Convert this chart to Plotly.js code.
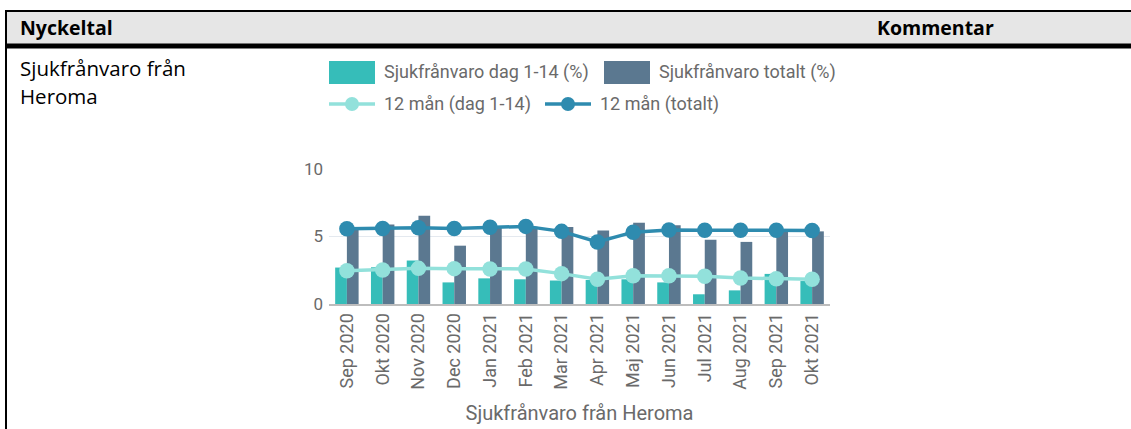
<!DOCTYPE html>
<html>
<head>
<meta charset="utf-8">
<script src="https://cdn.plot.ly/plotly-3.0.1.min.js"></script>
<style>
html,body{margin:0;padding:0;background:#fff;}
#chart{width:1131px;height:429px;}
</style>
</head>
<body>
<div id="chart"></div>
<script>
// ---- data ----
const months = ["Sep 2020","Okt 2020","Nov 2020","Dec 2020","Jan 2021","Feb 2021","Mar 2021","Apr 2021","Maj 2021","Jun 2021","Jul 2021","Aug 2021","Sep 2021","Okt 2021"];
const sickShort = [2.70, 2.72, 3.22, 1.60, 1.90, 1.83, 1.74, 1.78, 1.83, 1.60, 0.72, 1.01, 2.23, 1.70];
const sickTotal = [5.60, 5.88, 6.54, 4.32, 5.70, 5.72, 5.70, 5.45, 6.02, 5.83, 4.76, 4.60, 5.50, 5.38];
const roll12Short = [2.46, 2.52, 2.64, 2.62, 2.60, 2.60, 2.25, 1.84, 2.10, 2.10, 2.05, 1.93, 1.87, 1.83];
const roll12Total = [5.58, 5.60, 5.65, 5.60, 5.68, 5.75, 5.38, 4.60, 5.32, 5.48, 5.46, 5.46, 5.46, 5.45];
const yTicks = [0, 5, 10];
const seriesNames = ["Sjukfrånvaro dag 1-14 (%)", "Sjukfrånvaro totalt (%)", "12 mån (dag 1-14)", "12 mån (totalt)"];
const axisTitle = "Sjukfrånvaro från Heroma";
const headerLeft = "Nyckeltal", headerRight = "Kommentar";
const rowLabel = ["Sjukfrånvaro från", "Heroma"];

// ---- style ----
const C_TEAL = "#36BDB9", C_SLATE = "#5B7890", C_LIGHT = "#92E1DB", C_DARK = "#2E8BAF";
const GREY = "#6A6A6A";
const M = {l:329, r:301, t:169, b:125};
const PW = 1131 - M.l - M.r, PH = 429 - M.t - M.b;
const px = x => (x - M.l) / PW;
const py = y => (M.t + PH - y) / PH;

const traces = [
  {type:"bar", x:months, y:sickShort, name:seriesNames[0], marker:{color:C_TEAL}, showlegend:false, hoverinfo:"skip"},
  {type:"bar", x:months, y:sickTotal, name:seriesNames[1], marker:{color:C_SLATE}, showlegend:false, hoverinfo:"skip"},
  {type:"scatter", mode:"lines+markers", x:months, y:roll12Short, name:seriesNames[2],
   line:{color:C_LIGHT, width:3.5}, marker:{color:C_LIGHT, size:15.5}, showlegend:false, cliponaxis:false},
  {type:"scatter", mode:"lines+markers", x:months, y:roll12Total, name:seriesNames[3],
   line:{color:C_DARK, width:3.5}, marker:{color:C_DARK, size:15.5}, showlegend:false, cliponaxis:false}
];

const shapes = [
  // table header
  {type:"rect", xref:"paper", yref:"paper", x0:px(7), x1:px(1135), y0:py(12), y1:py(44), fillcolor:"#E6E6E6", line:{width:0}, layer:"below"},
  {type:"line", xref:"paper", yref:"paper", x0:px(5), x1:px(1135), y0:py(11), y1:py(11), line:{color:"#000", width:2}},
  {type:"line", xref:"paper", yref:"paper", x0:px(5), x1:px(1135), y0:py(46), y1:py(46), line:{color:"#000", width:5}},
  {type:"line", xref:"paper", yref:"paper", x0:px(6), x1:px(6), y0:py(10), y1:py(440), line:{color:"#000", width:2}},
  // custom legend
  {type:"rect", xref:"paper", yref:"paper", x0:px(329), x1:px(375), y0:py(61), y1:py(84), fillcolor:C_TEAL, line:{width:0}},
  {type:"rect", xref:"paper", yref:"paper", x0:px(604), x1:px(650), y0:py(61), y1:py(84), fillcolor:C_SLATE, line:{width:0}},
  {type:"line", xref:"paper", yref:"paper", x0:px(329), x1:px(375), y0:py(104), y1:py(104), line:{color:C_LIGHT, width:3.5}},
  {type:"circle", xref:"paper", yref:"paper", xsizemode:"pixel", ysizemode:"pixel", xanchor:px(352), yanchor:py(104), x0:-7, x1:7, y0:-7, y1:7, fillcolor:C_LIGHT, line:{width:0}},
  {type:"line", xref:"paper", yref:"paper", x0:px(545), x1:px(591), y0:py(104), y1:py(104), line:{color:C_DARK, width:3.5}},
  {type:"circle", xref:"paper", yref:"paper", xsizemode:"pixel", ysizemode:"pixel", xanchor:px(568), yanchor:py(104), x0:-7, x1:7, y0:-7, y1:7, fillcolor:C_DARK, line:{width:0}}
];

const hfont = {family:"Open Sans, Noto Sans, sans-serif", size:19.5, color:"#000"};
const tfont = {family:"Open Sans, Noto Sans, sans-serif", size:20.5, color:"#000"};
const lfont = {family:"Roboto, sans-serif", size:18, color:GREY};
const ann = (x, y, text, font) => ({xref:"paper", yref:"paper", x:px(x), y:py(y), text:text, showarrow:false, xanchor:"left", yanchor:"middle", font:font});
const annotations = [
  ann(18, 27, "<b>"+headerLeft+"</b>", hfont),
  ann(875, 27, "<b>"+headerRight+"</b>", hfont),
  ann(18, 68, rowLabel[0], tfont),
  ann(18, 96, rowLabel[1], tfont),
  ann(382, 72, seriesNames[0], lfont),
  ann(657, 72, seriesNames[1], lfont),
  ann(382, 104, seriesNames[2], lfont),
  ann(598, 104, seriesNames[3], lfont)
];

const layout = {
  width:1131, height:429,
  margin:M,
  paper_bgcolor:"#fff", plot_bgcolor:"#fff",
  barmode:"group", bargap:0.345, bargroupgap:0,
  showlegend:false,
  font:{family:"Roboto, sans-serif", color:GREY},
  xaxis:{type:"category", range:[-0.5, months.length - 0.5], tickangle:-90, tickfont:{size:18, color:GREY}, showgrid:false,
         showline:true, linecolor:"#BDBDBD", linewidth:2, ticks:"", automargin:false,
         title:{text:axisTitle, font:{size:20, color:GREY}, standoff:17}},
  yaxis:{range:[0,10], tickvals:yTicks, tickfont:{size:17, color:GREY}, gridcolor:"#E4E9EF", gridwidth:1.5,
         zeroline:false, showline:false, ticks:"", ticklabelstandoff:5, automargin:false},
  shapes:shapes,
  annotations:annotations
};

Plotly.newPlot("chart", traces, layout, {displayModeBar:false, staticPlot:true});
</script>
</body>
</html>
